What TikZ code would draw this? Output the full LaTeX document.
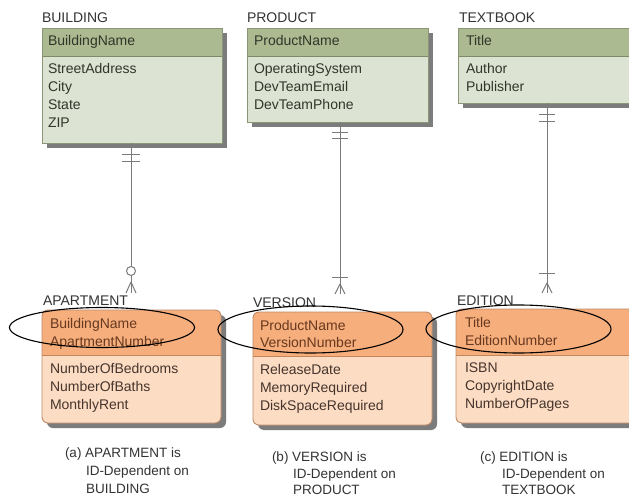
\documentclass[tikz,border=0pt]{standalone}
\usepackage{fontspec}
\setmainfont{Liberation Sans}
\usetikzlibrary{shapes.geometric,shadows,calc}

\definecolor{ghead}{HTML}{ABBA90}
\definecolor{gbody}{HTML}{DDE3D2}
\definecolor{gline}{HTML}{8A9678}
\definecolor{gsepc}{HTML}{7D8A68}
\definecolor{gtext}{HTML}{30362A}
\definecolor{ohead}{HTML}{F5AE7C}
\definecolor{obody}{HTML}{FDDCC4}
\definecolor{oline}{HTML}{C08A68}
\definecolor{osepc}{HTML}{C4855A}
\definecolor{ohtext}{HTML}{68391F}
\definecolor{obtext}{HTML}{45352C}
\definecolor{lbltext}{HTML}{333333}
\definecolor{connc}{HTML}{7A7A7A}
\definecolor{shadowc}{HTML}{7C7C7C}

\begin{document}
\begin{tikzpicture}[x=1pt,y=-1pt,
  every node/.style={inner sep=0pt, outer sep=0pt},
  dshadow/.style={drop shadow={shadow xshift=5pt, shadow yshift=-5pt, fill=shadowc, opacity=1}},
  gbox/.style={rectangle, anchor=north west, fill=gbody, dshadow},
  ghd/.style={rectangle, anchor=north west, fill=ghead},
  obox/.style={rectangle, anchor=north west, fill=obody, rounded corners=6pt, dshadow},
  ohd/.style={rectangle, anchor=north west, fill=ohead},
  gborder/.style={draw=gline, line width=0.9pt},
  oborder/.style={draw=oline, line width=0.9pt, rounded corners=6pt},
  gsep/.style={draw=gsepc, line width=1pt},
  osep/.style={draw=osepc, line width=1pt},
  ftxt/.style={anchor=base west, font=\fontsize{14}{17}\selectfont},
  lbl/.style={ftxt, text=lbltext},
  gtxt/.style={ftxt, text=gtext},
  ohtxt/.style={ftxt, text=ohtext},
  obtxt/.style={ftxt, text=obtext},
  captxt/.style={anchor=base west, font=\fontsize{13.5}{19}\selectfont, text=lbltext},
  conn/.style={draw=connc, line width=1pt},
  keyring/.style={ellipse, draw=black, line width=1.1pt}
]
\useasboundingbox (0,0) rectangle (629,497);
\clip (0,0) rectangle (629,497);
\fill[white] (0,0) rectangle (629,497);

% ---------- strong entities ----------
\node[gbox, minimum width=180pt, minimum height=115pt] (bldg) at (42,28) {};
\node[ghd, minimum width=180pt, minimum height=29pt] (bldgh) at (42,28) {};
\draw[gsep] (bldgh.south west) -- (bldgh.south east);
\draw[gborder] (bldg.north west) rectangle (bldg.south east);

\node[gbox, minimum width=181pt, minimum height=94pt] (prod) at (247,28) {};
\node[ghd, minimum width=181pt, minimum height=29pt] (prodh) at (247,28) {};
\draw[gsep] (prodh.south west) -- (prodh.south east);
\draw[gborder] (prod.north west) rectangle (prod.south east);

\node[gbox, minimum width=182pt, minimum height=75pt] (tbook) at (458,28) {};
\node[ghd, minimum width=182pt, minimum height=29pt] (tbookh) at (458,28) {};
\draw[gsep] (tbookh.south west) -- (tbookh.south east);
\draw[gborder] (tbook.north west) rectangle (tbook.south east);

\node[lbl] (bldgl) at (42,23) {BUILDING};
\node[lbl] (prodl) at (247,23) {PRODUCT};
\node[lbl] (tbookl) at (459,23) {TEXTBOOK};

\node[gtxt] (bldgk) at (48,46) {BuildingName};
\foreach \t [count=\i] in {StreetAddress,City,State,ZIP}
  \node[gtxt] (bldga\i) at (48,{74+17.8*(\i-1)}) {\t};
\node[gtxt] (prodk) at (254,46) {ProductName};
\foreach \t [count=\i] in {OperatingSystem,DevTeamEmail,DevTeamPhone}
  \node[gtxt] (proda\i) at (254,{74+17.8*(\i-1)}) {\t};
\node[gtxt] (tbookk) at (466,46) {Title};
\foreach \t [count=\i] in {Author,Publisher}
  \node[gtxt] (tbooka\i) at (466,{74+17.8*(\i-1)}) {\t};

% ---------- ID-dependent entities ----------
\node[obox, minimum width=179pt, minimum height=113pt] (apt) at (42,310) {};
\begin{scope}
  \clip[rounded corners=6pt] (apt.north west) rectangle (apt.south east);
  \node[ohd, minimum width=179pt, minimum height=45pt] (apth) at (42,310) {};
\end{scope}
\draw[osep] (apth.south west) -- (apth.south east);
\draw[oborder] (apt.north west) rectangle (apt.south east);

\node[obox, minimum width=179pt, minimum height=113pt] (ver) at (253,312) {};
\begin{scope}
  \clip[rounded corners=6pt] (ver.north west) rectangle (ver.south east);
  \node[ohd, minimum width=179pt, minimum height=44pt] (verh) at (253,312) {};
\end{scope}
\draw[osep] (verh.south west) -- (verh.south east);
\draw[oborder] (ver.north west) rectangle (ver.south east);

\node[obox, minimum width=184pt, minimum height=114pt] (edn) at (456,309) {};
\begin{scope}
  \clip[rounded corners=6pt] (edn.north west) rectangle (edn.south east);
  \node[ohd, minimum width=184pt, minimum height=46pt] (ednh) at (456,309) {};
\end{scope}
\draw[osep] (ednh.south west) -- (ednh.south east);
\draw[oborder] (edn.north west) rectangle (edn.south east);

\node[lbl] (aptl) at (43,305) {APARTMENT};
\node[lbl] (verl) at (253,307) {VERSION};
\node[lbl] (ednl) at (457,305) {EDITION};

\node[ohtxt] (aptk1) at (50,328) {BuildingName};
\node[ohtxt] (aptk2) at (50,346) {ApartmentNumber};
\foreach \t [count=\i] in {NumberOfBedrooms,NumberOfBaths,MonthlyRent}
  \node[obtxt] (apta\i) at (50,{373+18*(\i-1)}) {\t};
\node[ohtxt] (verk1) at (260,330) {ProductName};
\node[ohtxt] (verk2) at (260,347) {VersionNumber};
\foreach \t [count=\i] in {ReleaseDate,MemoryRequired,DiskSpaceRequired}
  \node[obtxt] (vera\i) at (260,{374+18.2*(\i-1)}) {\t};
\node[ohtxt] (ednk1) at (465,327) {Title};
\node[ohtxt] (ednk2) at (465,345) {EditionNumber};
\foreach \t [count=\i] in {ISBN,CopyrightDate,NumberOfPages}
  \node[obtxt] (edna\i) at (465,{372+18*(\i-1)}) {\t};

% ---------- relationships ----------
% BUILDING -- APARTMENT: one and only one / zero or many
\coordinate (aend) at (131,293);
\coordinate (afoot) at (131,282);
\node[circle, draw=connc, line width=1pt, fill=white, minimum size=9pt] (acirc) at (131,271) {};
\draw[conn] (bldg.south -| aend) -- (acirc.north);
\draw[conn] (acirc.south) -- (aend);
\draw[conn] ($(bldg.south -| aend)+(-9,12)$) -- ++(18,0);
\draw[conn] ($(bldg.south -| aend)+(-9,19)$) -- ++(18,0);
\draw[conn] (afoot) -- ($(aend)+(-5,0)$);
\draw[conn] (afoot) -- ($(aend)+(5,0)$);

% PRODUCT -- VERSION: one and only one / one or many
\coordinate (vend) at (340,294);
\coordinate (vfoot) at (340,284);
\draw[conn] (prod.south -| vend) -- (vend);
\draw[conn] ($(prod.south -| vend)+(-8,11)$) -- ++(16,0);
\draw[conn] ($(prod.south -| vend)+(-8,17)$) -- ++(16,0);
\draw[conn] ($(vend)+(-8,-17)$) -- ++(16,0);
\draw[conn] (vfoot) -- ($(vend)+(-5,0)$);
\draw[conn] (vfoot) -- ($(vend)+(5,0)$);

% TEXTBOOK -- EDITION: one and only one / one or many
\coordinate (eend) at (547,293);
\coordinate (efoot) at (547,283);
\draw[conn] (tbook.south -| eend) -- (eend);
\draw[conn] ($(tbook.south -| eend)+(-8,12)$) -- ++(16,0);
\draw[conn] ($(tbook.south -| eend)+(-8,19)$) -- ++(16,0);
\draw[conn] ($(eend)+(-8,-20)$) -- ++(16,0);
\draw[conn] (efoot) -- ($(eend)+(-5,0)$);
\draw[conn] (efoot) -- ($(eend)+(5,0)$);

% ---------- composite identifiers ----------
\node[keyring, minimum width=185pt, minimum height=40pt] (aptring) at (102,327.5) {};
\node[keyring, minimum width=185pt, minimum height=47pt] (verring) at (310.5,329.5) {};
\node[keyring, minimum width=185pt, minimum height=48pt] (ednring) at (518.5,329) {};

% ---------- captions ----------
\node[captxt] (capa1) at (65,457) {(a) APARTMENT is};
\node[captxt] (capa2) at (86,475) {ID-Dependent on};
\node[captxt] (capa3) at (86,493) {BUILDING};
\node[captxt] (capb1) at (272,461) {(b) VERSION is};
\node[captxt] (capb2) at (293,478) {ID-Dependent on};
\node[captxt] (capb3) at (293,494) {PRODUCT};
\node[captxt] (capc1) at (480,461) {(c) EDITION is};
\node[captxt] (capc2) at (502,478) {ID-Dependent on};
\node[captxt] (capc3) at (502,494) {TEXTBOOK};
\end{tikzpicture}
\end{document}
